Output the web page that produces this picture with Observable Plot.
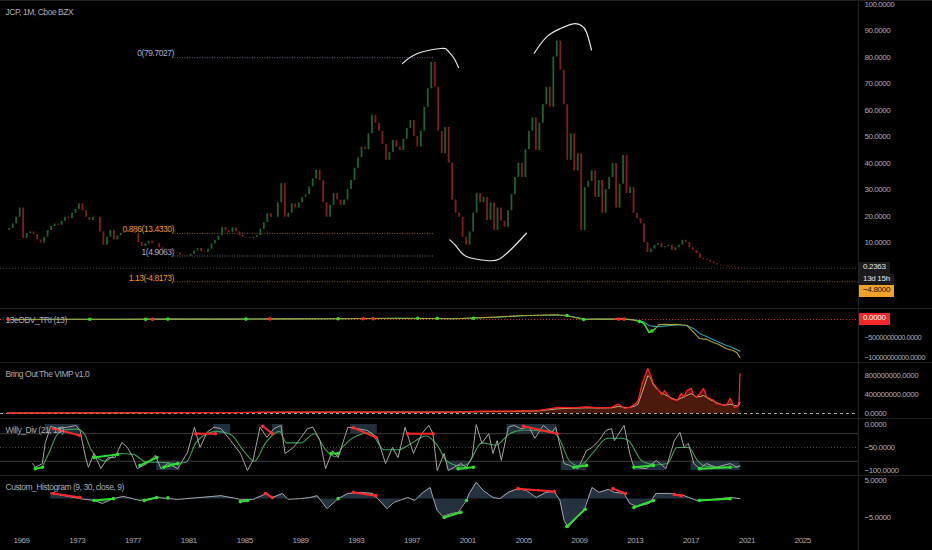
<!DOCTYPE html>
<html>
<head>
<meta charset="utf-8">
<script src="https://cdn.jsdelivr.net/npm/d3@7"></script>
<script src="https://cdn.jsdelivr.net/npm/@observablehq/plot@0.6"></script>
<style>
  html, body { margin: 0; padding: 0; background: #000; }
  #chart { position: relative; width: 932px; height: 550px; overflow: hidden; background: #000; }
  .pane { position: relative; box-shadow: inset 0 1px 0 #1f1f1f; }
  .pane svg { display: block; overflow: visible; }
  svg text { letter-spacing: -0.45px; }
  .tag { position: absolute; left: 859px; height: 12px; line-height: 12px; padding: 0 4px;
         font: 8px 'Liberation Sans', Arial, sans-serif; letter-spacing: -0.3px; white-space: nowrap; }
  #vline { position: absolute; top: 0; width: 1px; height: 550px; background: #222; }
</style>
</head>
<body>
<div id="chart"></div>
<script>
// ---- price, quarterly closes from 1968 Q1 ----
const startYear = 1968;
const firstOpen = 14.5;
const closes = [
  15.3, 17, 19.5, 23,   11.5, 13.4, 14, 13,   11, 9.8, 12, 14.5,   16, 17, 16.5, 18,
  19.5, 19, 21, 22.5,   24.6, 22, 19.5, 18.3, 19.5, 19.5, 14, 8.9,   12, 14.5, 11, 12.5,
  13.5, 14, 14.5, 15,   13.4, 10, 8.5, 9.5,   10.5, 9.6, 9.6, 8,     7, 7.5, 6.5, 5.8,
  6, 5.2, 5, 4.8,       5.5, 6.8, 7.7, 6.5,   6.2, 7.5, 9.5, 10.8,   12.5, 15.7, 14.5, 13.8,
  15.6, 14, 12.6, 12,   11.8, 11.5, 12, 12.6, 15, 17.5, 20.9, 19.5,  19.5, 25, 32.2, 19.5,
  21, 24.6, 23, 25,     27, 28, 31, 34,       37.2, 33.4, 25, 19.5,  24, 28.5, 26, 24,
  26, 30, 33.4, 38,     42, 46, 45, 51,       58, 55, 52, 47,        41, 44, 48.5, 46,
  44.7, 49, 53, 56,     50, 46, 52, 61,       68, 78, 68.6, 52,      43.5, 53.4, 40, 26,
  21, 19.5, 12, 9,      14, 21, 28.5, 25,     27, 18.3, 25, 14.5,    23, 18, 15.7, 22,
  28, 34.5, 40, 34.5,   45, 52, 57, 44.7,     55, 62, 68.6, 61,      80, 86, 75, 62,
  41, 51, 37, 43.5,     14.5, 30.8, 33, 37,   27, 33.4, 21, 30,      34.5, 39.8, 23, 32,
  42.8, 28.5, 30.8, 21, 19, 17, 10, 6.2,      7.5, 9, 9.6, 8,        8.5, 9, 7, 8,
  9, 10.8, 10, 8,       7, 5.8, 4, 3.5,       3.2, 2.6, 2, 1.5,      1.3, 1.1, 0.8, 0.9,
  0.6, 0.3, 0.2363
];
const priceTicks = [10, 20, 30, 40, 50, 60, 70, 80, 90, 100];

// fibonacci retracement drawn on the chart
const fibLevels = [0, 0.886, 1, 1.13];
const fibPrices = [79.7027, 13.4330, 4.9063, -4.8173];
const fibFrom = 1980.0, fibTo = 1998.6;

// hand-drawn arcs (year, price)
const arcTop1 = [[1996.31, 77.5], [1997.39, 81.3], [1999.04, 83.2], [1999.54, 82.5], [1999.97, 79.8], [2000.33, 76.0]];
const arcTop2 = [[2005.75, 81.4], [2006.63, 87.5], [2007.59, 90.6], [2008.55, 92.5], [2009.14, 91.9], [2009.5, 89.4], [2009.86, 82.7]];
const arcLow = [[1999.7, 11.0], [2000.23, 8.2], [2000.9, 4.7], [2002.33, 3.2], [2003.27, 3.8], [2004.25, 8.2], [2005.2, 13.5]];

// ---- 13eOBV_TRI ----
const obvYears = [1968, 1972, 1976, 1980, 1984, 1988, 1992, 1996, 2000, 2003, 2005, 2007.3, 2008, 2009.3, 2010.5, 2011.5, 2012.2, 2012.8, 2013.3, 2013.6, 2014.0, 2014.4, 2014.7, 2015.2, 2015.6, 2016.0, 2016.4, 2016.7, 2017.2, 2017.6, 2018.1, 2018.6, 2019.0, 2019.5, 2020.0, 2020.3, 2020.5];
const obvMain = [0, 0.05, 0.05, 0.1, 0.1, 0.15, 0.2, 0.3, 0.18, 0.6, 1.0, 1.2, 1.0, 0, 0.1, 0.1, 0.1, -0.1, -0.5, -0.9, -3.3, -2.4, -1.3, -1.2, -1.3, -1.2, -1.4, -1.5, -3.3, -4.8, -5.0, -5.8, -6.3, -7.3, -7.8, -8.4, -9.6]; // x 1e9
const obvSignal = [0, 0.05, 0.05, 0.1, 0.1, 0.15, 0.2, 0.3, 0.2, 0.55, 0.95, 1.15, 1.05, 0.2, 0.1, 0.1, 0.1, 0, -0.3, -0.6, -1.5, -1.8, -1.8, -1.6, -1.5, -1.4, -1.4, -1.5, -2.3, -3.5, -4.3, -5.1, -5.7, -6.5, -7.1, -7.6, -8.0];
const obvGreenDots = [[1973.9, 0.05], [1977.9, 0.05], [1979.5, 0.1], [1985.1, 0.1], [1991.7, 0.2], [1997.4, 0.3], [1998.8, 0.3], [2001.4, 0.3], [2008.1, 1.0], [2009.3, 0], [2013.3, -0.5], [2014.2, -2.9]];
const obvRedDots = [[1968.1, 0], [1978.4, 0.05], [1986.8, 0.15], [1993.5, 0.2], [1994.2, 0.2], [2011.8, 0.1], [2012.2, 0.1]];
const obvTicks = [-5e9, -1e10];

// ---- Bring Out The VIMP ----
const vimpYears = [1968, 1972, 1976, 1980, 1984, 1988, 1992, 1996, 2000, 2002, 2004, 2006, 2007.5, 2008.5, 2009.5, 2010.5, 2011.3, 2011.8, 2012.2, 2012.6, 2013.0, 2013.2, 2013.5, 2013.9, 2014.1, 2014.3, 2014.6, 2014.9, 2015.1, 2015.5, 2016.0, 2016.3, 2016.5, 2016.7, 2017.0, 2017.2, 2017.4, 2017.7, 2017.9, 2018.1, 2018.3, 2018.6, 2018.8, 2019.1, 2019.3, 2019.6, 2019.8, 2020.1, 2020.35, 2020.45, 2020.5];
const vimpRed = [0.1, 0.15, 0.15, 0.2, 0.2, 0.3, 0.3, 0.3, 0.3, 0.5, 0.5, 0.6, 1.3, 1.2, 1.4, 1.2, 1.3, 2.0, 1.1, 1.3, 2.0, 2.7, 6.3, 9.5, 8.0, 6.3, 5.2, 4.0, 4.8, 3.2, 2.7, 4.2, 3.5, 4.8, 5.3, 3.8, 3.4, 4.5, 5.3, 3.6, 3.2, 2.8, 2.1, 2.0, 1.7, 2.0, 3.2, 1.3, 1.5, 2.7, 8.4]; // x 1e8
const vimpSignal = [0.1, 0.12, 0.14, 0.18, 0.2, 0.25, 0.28, 0.3, 0.3, 0.4, 0.45, 0.55, 1.0, 1.1, 1.2, 1.15, 1.2, 1.5, 1.3, 1.25, 1.6, 2.0, 4.5, 8.0, 7.5, 6.0, 5.0, 4.3, 4.0, 3.4, 2.8, 3.3, 3.5, 3.8, 4.2, 3.8, 3.5, 3.6, 3.8, 3.4, 3.0, 2.6, 2.3, 2.0, 1.8, 1.8, 2.0, 1.7, 1.6, 1.8, 2.3];
const vimpTicks = [0, 4e8, 8e8];

// ---- Willy_Div ----
const willyYears = [1969.8, 1970.0, 1970.5, 1970.7, 1971.1, 1971.6, 1972.3, 1972.9, 1973.2, 1973.6, 1973.8, 1974.2, 1974.7, 1975.2, 1975.7, 1976.2, 1976.6, 1977.0, 1977.3, 1978.0, 1978.6, 1979.0, 1979.5, 1980.2, 1980.9, 1981.4, 1981.8, 1982.3, 1982.8, 1983.3, 1984.0, 1984.7, 1985.2, 1985.6, 1986.1, 1986.6, 1987.1, 1987.6, 1987.9, 1988.5, 1989.0, 1989.5, 1989.9, 1990.4, 1990.8, 1991.3, 1991.7, 1992.4, 1993.1, 1993.8, 1994.5, 1995.1, 1995.6, 1996.0, 1996.5, 1997.1, 1997.7, 1998.2, 1998.5, 1998.8, 1999.3, 1999.6, 2000.5, 2000.9, 2001.3, 2001.6, 2002.0, 2002.5, 2002.8, 2003.1, 2003.4, 2003.9, 2004.3, 2004.8, 2005.4, 2005.8, 2006.4, 2007.0, 2007.3, 2007.9, 2008.3, 2008.9, 2009.5, 2009.9, 2010.4, 2010.9, 2011.3, 2011.5, 2012.2, 2012.6, 2012.9, 2013.8, 2014.5, 2015.2, 2015.8, 2016.2, 2016.5, 2016.8, 2017.2, 2017.6, 2018.1, 2018.8, 2019.8, 2020.3, 2020.5];
const willyR = [-85, -93, -85, -41, -4, -9, -6, -2, -13, -72, -93, -63, -96, -72, -72, -39, -50, -72, -96, -85, -67, -96, -85, -96, -61, -6, -50, -17, -6, -9, -35, -63, -100, -78, -6, -28, -9, -2, -63, -50, -30, -9, -6, -35, -96, -57, -72, -6, -9, -13, -28, -85, -50, -72, -6, -63, -20, -2, -20, -100, -63, -100, -85, -93, -72, 0, -41, -20, -63, -35, -78, -6, -2, -9, -6, -30, -2, -17, -6, -85, -89, -96, -57, -50, -35, -13, -9, -35, -2, -63, -93, -96, -78, -96, -35, -17, -50, -41, -85, -96, -85, -93, -85, -93, -89];
const willyMaYears = [1970.5, 1971, 1971.5, 1972, 1973, 1973.5, 1974, 1975, 1975.5, 1976, 1977, 1978, 1979, 1980, 1980.8, 1981.5, 1982, 1983, 1984, 1985, 1985.7, 1986.5, 1987.5, 1988, 1989, 1990, 1990.8, 1991.5, 1992, 1993, 1994, 1995, 1996, 1997, 1998, 1998.8, 1999.5, 2000.5, 2001, 2002, 2003, 2004, 2005, 2006, 2007, 2007.5, 2008.3, 2009, 2010, 2011, 2012, 2012.5, 2013.5, 2014.5, 2015.3, 2016, 2016.8, 2017.5, 2018, 2019, 2020, 2020.5];
const willyMa = [-92, -60, -25, -12, -10, -20, -55, -80, -70, -63, -65, -82, -82, -85, -82, -40, -25, -15, -22, -60, -80, -40, -15, -40, -40, -20, -55, -70, -50, -25, -18, -55, -55, -40, -25, -45, -80, -90, -85, -40, -45, -20, -12, -13, -15, -28, -80, -90, -60, -30, -30, -35, -80, -88, -85, -50, -50, -80, -90, -93, -93, -91];
const willyTopZones = [[1970.7, 1973.2], [1982.8, 1984.0], [1987.0, 1987.8], [1992.6, 1994.5], [2003.8, 2007.4]];
const willyLowZones = [[1978.7, 1980.4], [1999.5, 2001.0], [2007.7, 2009.5], [2012.9, 2015.2], [2017.0, 2020.5]];
const willyBands = [-20, -50, -80];
const willyRedDiv = [[1971.3, -9, 1973.2, -24], [1981.5, -20, 1982.9, -20], [1986.3, -4, 1987.0, -20], [1992.8, -7, 1994.4, -28], [1996.7, -20, 1998.5, -20], [2005.0, -4, 2007.4, -20]];
const willyGreenDiv = [[1970.0, -96, 1970.5, -93], [1974.2, -72, 1975.9, -65], [1977.5, -89, 1978.7, -72], [1979.2, -93, 1980.2, -85], [1991.2, -63, 1991.7, -63], [2000.3, -96, 2001.4, -93], [2008.6, -93, 2009.5, -89], [2012.9, -93, 2014.3, -89], [2017.6, -96, 2019.8, -93]];
const willyTicks = [0, -50, -100];

// ---- Custom_Histogram ----
const histYears = [1971.1, 1973.2, 1974.2, 1974.8, 1975.6, 1976.3, 1977.5, 1978.7, 1980.2, 1981.8, 1983.3, 1984.7, 1985.6, 1986.6, 1987.0, 1987.7, 1988.1, 1989.0, 1989.7, 1990.2, 1990.9, 1991.7, 1992.4, 1993.3, 1994.2, 1995.2, 1995.7, 1996.7, 1997.2, 1997.8, 1998.3, 1998.5, 1998.8, 1999.2, 1999.8, 2000.3, 2000.9, 2001.1, 2001.6, 2002.1, 2002.8, 2003.3, 2003.9, 2004.6, 2005.2, 2005.9, 2006.6, 2007.2, 2007.6, 2007.9, 2008.2, 2008.8, 2009.4, 2009.9, 2010.4, 2011.1, 2011.5, 2012.2, 2012.6, 2013.1, 2014.0, 2014.5, 2015.5, 2016.5, 2017.4, 2018.6, 2019.8, 2020.5];
const histVals = [1.6, 0.1, -0.4, -1.2, 0.1, 0.7, -0.4, 0.4, -0.1, 0.4, 0.9, -0.1, -0.1, 1.5, 0.4, 1.5, -0.1, 0.1, 0.4, 0.9, -2.6, 0.1, 1.5, 1.8, 1.5, -2.6, -0.9, 0.4, -0.4, 1.8, 3.1, 0.4, -3.1, -4.7, -3.9, -3.6, -0.4, 1.5, 4.5, 2.3, 0.4, 0.1, 1.8, 2.8, 2.3, 0.4, 1.8, 2.0, -0.4, -5.8, -7.7, -5.0, -2.3, 3.1, 1.8, 2.6, 1.8, 1.5, -1.2, -2.0, -1.2, 1.5, 1.5, 0.9, -0.4, -0.1, 0.4, 0.1];
const histRedDiv = [[1971.3, 1.5, 1973.2, 0.4], [1986.5, 1.5, 1987.0, 0.4], [1992.8, 1.8, 1994.4, 0.9], [2004.6, 2.8, 2007.2, 2.0], [2011.4, 2.8, 2012.3, 1.5], [2015.8, 1.2, 2016.3, 0.9]];
const histGreenDiv = [[1974.2, -0.4, 1975.6, 0.1], [1977.8, -0.4, 1978.7, 0.4], [1984.7, -0.7, 1985.2, -0.4], [1999.3, -5.0, 2000.5, -3.6], [2008.1, -7.4, 2009.4, -2.8], [2012.9, -2.3, 2014.3, -0.4], [2017.6, -0.4, 2019.8, 0.1]];
const histGreenDots = [[1979.5, 0.3], [1991.7, 0.1], [2000.9, -0.4]];
const histTicks = [5, -5];

const xTicks = [1969, 1973, 1977, 1981, 1985, 1989, 1993, 1997, 2001, 2005, 2009, 2013, 2017, 2021, 2025];

// ---- layout / style ----
const W = 932, MR = 74;
const xMin = 1967.5, xMax = 2029.0;
const axisColor = "#a9abb3";
const up = "#1a6230", down = "#861b1b";
const brightRed = "#ff2a2a", brightGreen = "#2ee02e";
const fmt4 = d3.format(".4f");
const font = "'Liberation Sans', Arial, sans-serif";

const baseStyle = { background: "transparent", color: axisColor, fontSize: "8px", fontFamily: font, overflow: "visible" };

function frame(height, marginBottom = 0, fontSize = "8px") {
  return { width: W, height, marginLeft: 0, marginRight: MR, marginTop: 0, marginBottom, style: { ...baseStyle, fontSize } };
}
function yAxis(domain, ticks) {
  return { domain, axis: "right", ticks, tickFormat: fmt4, tickSize: 0, tickPadding: 6, label: null };
}
const xHidden = { domain: [xMin, xMax], axis: null };
const title = (t) => Plot.text([t], { frameAnchor: "top-left", dx: 5, dy: 8, fill: axisColor, fontSize: 8.5 });
const pts = (arr) => arr.map(([x, y]) => ({ x, y }));
const seg = (arr) => arr.map(([x1, y1, x2, y2]) => ({ x1, y1, x2, y2 }));
const ends = (arr) => arr.flatMap(([x1, y1, x2, y2]) => [{ x: x1, y: y1 }, { x: x2, y: y2 }]);

// price panel
const candles = closes.map((c, i) => ({ t: startYear + i * 0.25 + 0.125, o: i ? closes[i - 1] : firstOpen, c }));
const lastPrice = closes[closes.length - 1];
const fibRows = fibLevels.map((level, i) => ({ level, p: fibPrices[i] }));
const fibColor = (d) => (d.level === 0 || d.level === 1) ? "#a3acd0" : "#e8962a";
const arcRows = [
  ...pts(arcTop1).map(d => ({ ...d, arc: "a" })),
  ...pts(arcTop2).map(d => ({ ...d, arc: "b" })),
  ...pts(arcLow).map(d => ({ ...d, arc: "c" }))
];

const pricePlot = Plot.plot({
  ...frame(308),
  x: xHidden,
  y: yAxis([-14.9, 101.3], priceTicks),
  marks: [
    Plot.ruleY([lastPrice], { stroke: "#3a3a3a", strokeDasharray: "1,2" }),
    Plot.ruleY(fibRows, {
      y: "p", x1: () => fibFrom, x2: d => d.level === 1.13 ? xMax : fibTo,
      stroke: fibColor, strokeWidth: 0.8, strokeDasharray: "1,1.5", strokeOpacity: 0.8
    }),
    Plot.text(fibRows, {
      x: () => fibFrom, y: "p", text: d => `${d.level}(${d.p.toFixed(4)})`,
      textAnchor: "end", dx: -1, dy: -4, fill: fibColor, fontSize: 8.5
    }),
    Plot.ruleX(candles, { x: "t", y1: "o", y2: "c", stroke: d => d.c >= d.o ? up : down, strokeWidth: 1.8 }),
    Plot.line(arcRows, { x: "x", y: "y", z: "arc", curve: "natural", stroke: "#e6e6e6", strokeWidth: 1.2 }),
    title("JCP, 1M, Cboe BZX")
  ]
});

// OBV panel
const obvRows = obvYears.map((t, i) => ({ t, m: obvMain[i] * 1e9, s: obvSignal[i] * 1e9 }));
const obvPlot = Plot.plot({
  ...frame(54, 0, "7.4px"),
  x: xHidden,
  y: yAxis([-1.083e10, 2.77e9], obvTicks),
  marks: [
    Plot.ruleY([0], { stroke: "#d02828", strokeDasharray: "1,2" }),
    Plot.line(obvRows, { x: "t", y: "s", stroke: "#2aa0a4", strokeWidth: 1.1 }),
    Plot.line(obvRows, { x: "t", y: "m", stroke: "#aaa232", strokeWidth: 1.1 }),
    Plot.line(obvRows.filter(d => d.t >= 2013.3 && d.t <= 2014.4), { x: "t", y: "m", stroke: brightGreen, strokeWidth: 1.4 }),
    Plot.line(obvRows.filter(d => d.t >= 2011.5 && d.t <= 2012.2), { x: "t", y: "m", stroke: brightRed, strokeWidth: 1.4 }),
    Plot.dot(pts(obvGreenDots), { x: "x", y: d => d.y * 1e9, r: 1.8, fill: brightGreen }),
    Plot.dot(pts(obvRedDots), { x: "x", y: d => d.y * 1e9, r: 1.8, fill: brightRed }),
    title("13eOBV_TRI (13)")
  ]
});
// nudge the OBV axis labels up a little so the lowest stays inside its pane
d3.select(obvPlot).selectAll('[aria-label="y-axis tick label"] text')
  .attr("transform", function () { return (this.getAttribute("transform") || "") + " translate(0,-2)"; });

// VIMP panel
const vimpRows = vimpYears.map((t, i) => ({ t, r: vimpRed[i] * 1e8, s: vimpSignal[i] * 1e8 }));
const vimpPlot = Plot.plot({
  ...frame(56),
  x: xHidden,
  y: yAxis([-1.05e8, 1.074e9], vimpTicks),
  marks: [
    Plot.areaY(vimpRows, { x: "t", y: "r", fill: "#6a0d0d", fillOpacity: 0.9 }),
    Plot.areaY(vimpRows, { x: "t", y: "s", fill: "#1f3a12", fillOpacity: 0.3 }),
    Plot.ruleY([0], { stroke: "#cfcfcf", strokeDasharray: "3,3", strokeWidth: 0.8 }),
    Plot.line(vimpRows, { x: "t", y: "s", stroke: "#b6bb72", strokeWidth: 1 }),
    Plot.line(vimpRows, { x: "t", y: "r", stroke: "#ff2020", strokeWidth: 1.3 }),
    title("Bring Out The VIMP v1.0")
  ]
});

// Willy panel
const willyRows = willyYears.map((t, i) => ({ t, v: willyR[i] }));
const willyMaRows = willyMaYears.map((t, i) => ({ t, v: willyMa[i] }));
const willyZoneRows = [
  ...willyTopZones.map(([a, b]) => ({ a, b, hi: 0, lo: willyBands[0] })),
  ...willyLowZones.map(([a, b]) => ({ a, b, hi: willyBands[2], lo: -100 }))
];
const willyPlot = Plot.plot({
  ...frame(57),
  x: xHidden,
  y: yAxis([-110.9, 13], willyTicks),
  marks: [
    Plot.rect(willyZoneRows, { x1: "a", x2: "b", y1: "lo", y2: "hi", fill: "#3d5670", fillOpacity: 0.55 }),
    Plot.ruleY([willyBands[0], willyBands[2]], { stroke: "#3c3c3c" }),
    Plot.ruleY([willyBands[1]], { stroke: "#4a4a4a", strokeDasharray: "1,2" }),
    Plot.line(willyMaRows, { x: "t", y: "v", curve: "monotone-x", stroke: "#3f9e55", strokeWidth: 1.1 }),
    Plot.line(willyRows, { x: "t", y: "v", stroke: "#a3a3a3", strokeWidth: 1 }),
    Plot.link(seg(willyRedDiv), { x1: "x1", y1: "y1", x2: "x2", y2: "y2", stroke: brightRed, strokeWidth: 2 }),
    Plot.link(seg(willyGreenDiv), { x1: "x1", y1: "y1", x2: "x2", y2: "y2", stroke: brightGreen, strokeWidth: 2 }),
    Plot.dot(ends(willyRedDiv), { x: "x", y: "y", r: 1.8, fill: brightRed }),
    Plot.dot(ends(willyGreenDiv), { x: "x", y: "y", r: 1.8, fill: brightGreen }),
    title("Willy_Div (21, 13)")
  ]
});

// Histogram panel + time axis
const histRows = histYears.map((t, i) => ({ t, v: histVals[i] }));
const histPlot = Plot.plot({
  ...frame(75, 18),
  x: { domain: [xMin, xMax], ticks: xTicks, tickFormat: d => String(d), tickSize: 0, tickPadding: 5, label: null },
  y: yAxis([-9.05, 6.35], histTicks),
  marks: [
    Plot.areaY(histRows, { x: "t", y: "v", fill: "#3e5168", fillOpacity: 0.6 }),
    Plot.line(histRows, { x: "t", y: "v", stroke: "#a0a4aa", strokeWidth: 1 }),
    Plot.link(seg(histRedDiv), { x1: "x1", y1: "y1", x2: "x2", y2: "y2", stroke: brightRed, strokeWidth: 2 }),
    Plot.link(seg(histGreenDiv), { x1: "x1", y1: "y1", x2: "x2", y2: "y2", stroke: brightGreen, strokeWidth: 2 }),
    Plot.dot(ends(histRedDiv), { x: "x", y: "y", r: 1.8, fill: brightRed }),
    Plot.dot([...ends(histGreenDiv), ...pts(histGreenDots)], { x: "x", y: "y", r: 1.8, fill: brightGreen }),
    title("Custom_Histogram (9, 30, close, 9)")
  ]
});

// ---- assemble ----
const root = d3.select("#chart");
function addPane(plot) {
  const pane = root.append("div").attr("class", "pane");
  pane.append(() => plot);
  return pane;
}
function tag(pane, plot, value, text, bg, fg, shift = 0) {
  const y = plot.scale("y").apply(value) + shift;
  pane.append("div").attr("class", "tag")
    .style("top", `${y - 6}px`).style("background", bg).style("color", fg)
    .text(text);
}

const pricePane = addPane(pricePlot);
const obvPane = addPane(obvPlot);
addPane(vimpPlot);
addPane(willyPlot);
addPane(histPlot);

tag(pricePane, pricePlot, lastPrice, fmt4(lastPrice), "#1b1b1b", "#e4e4e4");
tag(pricePane, pricePlot, lastPrice, "13d 15h", "#1b1b1b", "#e4e4e4", 12);
tag(pricePane, pricePlot, fibPrices[3], fmt4(-4.8), "#f0a228", "#111", 10);
tag(obvPane, obvPlot, 0, fmt4(0), "#f02828", "#fff");

root.append("div").attr("id", "vline").style("left", `${pricePlot.scale("x").apply(xMax)}px`);
</script>
</body>
</html>
